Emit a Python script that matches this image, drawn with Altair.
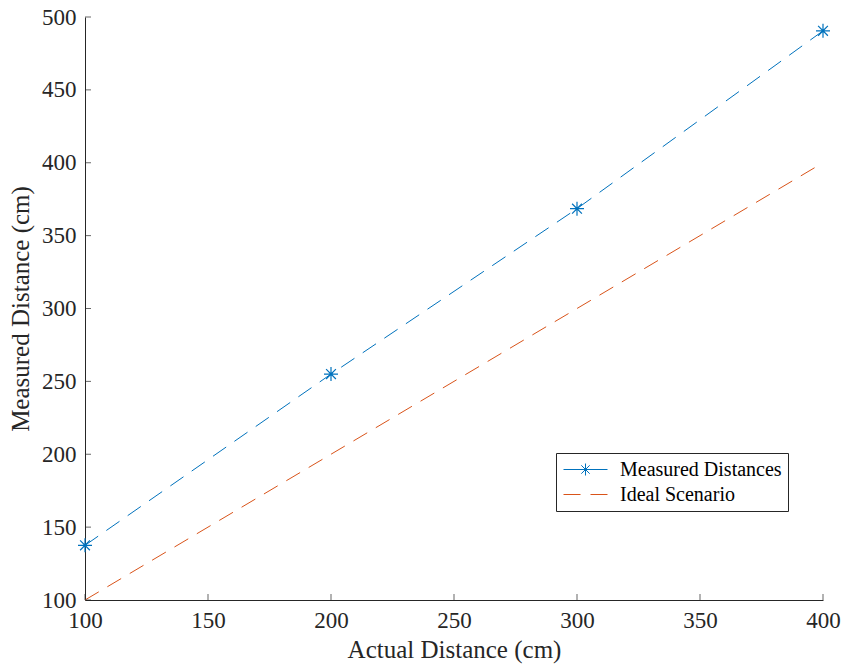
import altair as alt
import pandas as pd

# ---- data ----
actual = [100, 200, 300, 400]
measured = [137.5, 255.0, 368.5, 490.5]
ideal = [100, 200, 300, 400]
series_names = ["Measured Distances", "Ideal Scenario"]
series_colors = ["#0072BD", "#D95319"]
x_domain = [100, 400]
y_domain = [100, 500]
x_ticks = [100, 150, 200, 250, 300, 350, 400]
y_ticks = [100, 150, 200, 250, 300, 350, 400, 450, 500]
x_title = "Actual Distance (cm)"
y_title = "Measured Distance (cm)"

df = pd.DataFrame({
    "actual": actual + actual,
    "value": measured + ideal,
    "series": [series_names[0]] * len(actual) + [series_names[1]] * len(actual),
})
xt_df = pd.DataFrame({"actual": x_ticks, "value": [y_domain[0]] * len(x_ticks)})
yt_df = pd.DataFrame({"actual": [x_domain[0]] * len(y_ticks), "value": y_ticks})

FONT = "Liberation Serif"
AX = "#262626"
W, H = 738, 583
TICK = 6

ASTERISK = "M-1,0L1,0M0,-1L0,1M-0.7,-0.7L0.7,0.7M-0.7,0.7L0.7,-0.7"
# legend symbols: unit = 10px; drawn 44px wide, centred 1.3 units right of the slot centre
LEG_MEAS = ("M-0.9,0L3.5,0M1.3,-0.6L1.3,0.6M0.7,0L1.9,0"
            "M0.88,-0.42L1.72,0.42M0.88,0.42L1.72,-0.42")
LEG_IDEAL = "M-0.9,0L0.8,0M1.8,0L3.5,0"

xs = alt.Scale(domain=x_domain, nice=False, zero=False)
ys = alt.Scale(domain=y_domain, nice=False, zero=False)
cs = alt.Scale(domain=series_names, range=series_colors)

main_x = alt.Axis(values=x_ticks, ticks=False, grid=False, labelFlush=False,
                  domainColor=AX, domainWidth=1,
                  labelFont=FONT, labelFontSize=23, labelColor=AX, labelPadding=9,
                  title=x_title, titleFont=FONT, titleFontSize=25, titleFontWeight="normal",
                  titleColor=AX, titlePadding=5, format="d")
main_y = alt.Axis(values=y_ticks, ticks=False, grid=False, labelFlush=False,
                  domainColor=AX, domainWidth=1,
                  labelFont=FONT, labelFontSize=23, labelColor=AX, labelPadding=9,
                  title=y_title, titleFont=FONT, titleFontSize=25, titleFontWeight="normal",
                  titleColor=AX, titlePadding=8, format="d")

X = alt.X("actual:Q", scale=xs, axis=main_x)
Y = alt.Y("value:Q", scale=ys, axis=main_y)

line_layers = [
    alt.Chart(df).transform_filter(alt.datum.series == name)
    .mark_line(strokeWidth=1, strokeDash=[16, 10], color=col)
    .encode(x=X, y=Y)
    for name, col in zip(series_names, series_colors)
]

points = alt.Chart(df).transform_filter(
    alt.datum.series == series_names[0]
).mark_point(shape=ASTERISK, size=196, filled=False, strokeWidth=1.2, opacity=1,
             color=series_colors[0]).encode(x=X, y=Y)

# inward ticks
x_tick_marks = alt.Chart(xt_df).mark_tick(orient="vertical", size=TICK, thickness=1,
                                          yOffset=-TICK / 2, color=AX).encode(x=X, y=Y)
y_tick_marks = alt.Chart(yt_df).mark_tick(orient="horizontal", size=TICK, thickness=1,
                                          xOffset=TICK / 2, color=AX).encode(x=X, y=Y)

legend = alt.Legend(
    title=None, orient="none", legendX=471, legendY=436,
    strokeColor=AX, fillColor="white", padding=6,
    labelFont=FONT, labelFontSize=20, labelColor="black", labelOffset=37, labelLimit=400,
    symbolSize=400, symbolStrokeWidth=1, symbolOpacity=1, rowPadding=4,
)
leg_layer = alt.Chart(df).mark_point(filled=False, opacity=0, strokeWidth=1).encode(
    x=X, y=Y,
    color=alt.Color("series:N", scale=cs, legend=legend),
    shape=alt.Shape("series:N", scale=alt.Scale(domain=series_names, range=[LEG_MEAS, LEG_IDEAL]),
                    legend=legend),
)

chart = alt.layer(*line_layers, points, x_tick_marks, y_tick_marks, leg_layer).properties(
    width=W, height=H,
    autosize=alt.AutoSizeParams(type="none"),
    padding={"left": 85, "top": 17, "right": 22, "bottom": 70},
).configure(background="white").configure_view(stroke=None)

chart.save("out.html", embed_options={"renderer": "svg", "actions": False})
